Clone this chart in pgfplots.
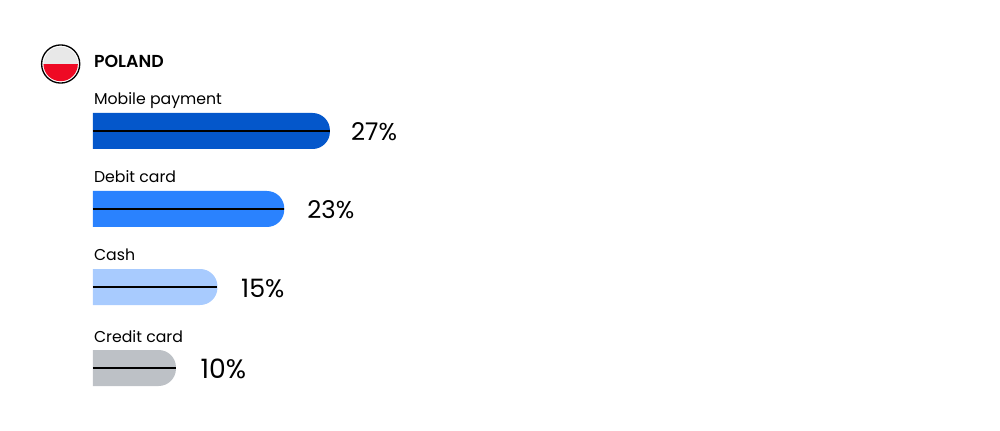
\documentclass[border=0pt]{standalone}
\usepackage{fontspec}
\setmainfont{Poppins}
\usepackage{pgfplots}
\pgfplotsset{compat=1.18}
\definecolor{mobile}{HTML}{0457CB}
\definecolor{debit}{HTML}{2A82FE}
\definecolor{cash}{HTML}{A8CBFE}
\definecolor{credit}{HTML}{BDC1C6}
\definecolor{flagred}{HTML}{EE0A24}
\definecolor{flagwhite}{HTML}{E8E8E8}
\begin{document}
\begin{tikzpicture}
\path[use as bounding box] (0,0) rectangle (750pt,323.25pt);
% x in percent units (0 = bar start), y in reference pixels from the top
\begin{axis}[
  anchor=south west, at={(0,0)},
  scale only axis, width=750pt, height=323.25pt,
  hide axis, clip=false,
  xmin=-11.2, xmax=109.28,
  ymin=0, ymax=431, y dir=reverse,
]
\addplot[fill=mobile, draw=none, rounded corners=13pt] coordinates {(0,113) (28.55,113) (28.55,149) (0,149)};
\addplot[black, line width=0.9pt] coordinates {(0,131) (28.55,131)};
\addplot[fill=debit, draw=none, rounded corners=13pt] coordinates {(0,191) (23.05,191) (23.05,227) (0,227)};
\addplot[black, line width=0.9pt] coordinates {(0,209) (23.05,209)};
\addplot[fill=cash, draw=none, rounded corners=13pt] coordinates {(0,269) (15,269) (15,305) (0,305)};
\addplot[black, line width=0.9pt] coordinates {(0,287) (15,287)};
\addplot[fill=credit, draw=none, rounded corners=13pt] coordinates {(0,350) (10,350) (10,386) (0,386)};
\addplot[black, line width=0.9pt] coordinates {(0,368) (10,368)};

% flag
\begin{scope}
\clip (axis cs:-3.89,64) circle (12.9pt);
\fill[flagwhite] (axis cs:-8,40) rectangle (axis cs:0,64.5);
\fill[flagred] (axis cs:-8,64.5) rectangle (axis cs:0,90);
\end{scope}
\draw[black, line width=1pt] (axis cs:-3.89,64) circle (14.3pt);

\node[anchor=base west, inner sep=0pt, font=\fontsize{13}{15}\selectfont\fontspec{Poppins SemiBold}] at (axis cs:0.1,68) {POLAND};
\node[anchor=base west, inner sep=0pt, font=\fontsize{11.8}{14}\selectfont] at (axis cs:0.1,105) {Mobile payment};
\node[anchor=base west, inner sep=0pt, font=\fontsize{11.8}{14}\selectfont] at (axis cs:0.1,182.5) {Debit card};
\node[anchor=base west, inner sep=0pt, font=\fontsize{11.8}{14}\selectfont] at (axis cs:0.1,260) {Cash};
\node[anchor=base west, inner sep=0pt, font=\fontsize{11.8}{14}\selectfont] at (axis cs:0.1,342) {Credit card};
\node[anchor=base west, inner sep=0pt, font=\fontsize{18.3}{20}\selectfont] at (axis cs:31.08,141) {27\%};
\node[anchor=base west, inner sep=0pt, font=\fontsize{18.3}{20}\selectfont] at (axis cs:25.8,219) {23\%};
\node[anchor=base west, inner sep=0pt, font=\fontsize{19}{20}\selectfont] at (axis cs:17.83,297) {15\%};
\node[anchor=base west, inner sep=0pt, font=\fontsize{20}{20}\selectfont] at (axis cs:12.95,378) {10\%};
\end{axis}
\end{tikzpicture}
\end{document}
